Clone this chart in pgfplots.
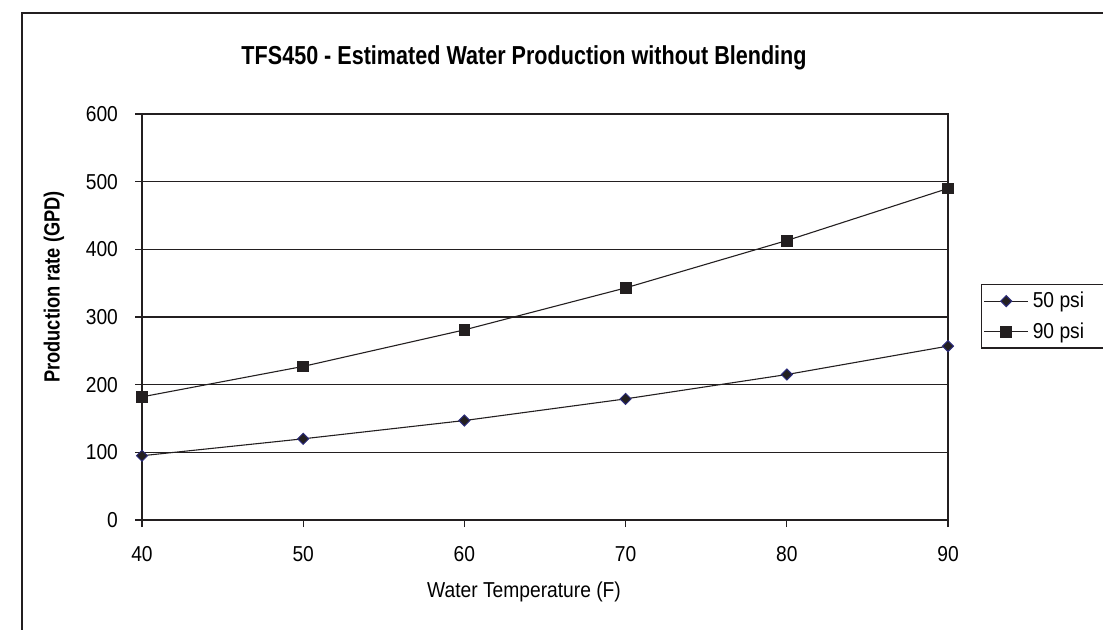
\documentclass[border=0pt]{standalone}
\usepackage{fontspec}
\setmainfont{Liberation Sans}[FakeStretch=0.89]
\newfontfamily\condbold{Liberation Sans Bold}[FakeStretch=0.83]
\usepackage{pgfplots}
\pgfplotsset{compat=1.18}
\definecolor{ink}{HTML}{231F20}
\definecolor{navy}{HTML}{2B2B7A}
\begin{document}
\begin{tikzpicture}[x=0.5pt,y=0.5pt]
\useasboundingbox (0,0) rectangle (1103,629);
\draw[ink,line width=1.25pt] (22,-5) -- (22,616) -- (1110,616);
\begin{axis}[
  at={(71pt,54.5pt)}, anchor=south west,
  width=403pt, height=203pt, scale only axis,
  xmin=40, xmax=90, ymin=0, ymax=600,
  xtick={40,50,...,90}, ytick={0,100,...,600},
  xtick pos=bottom, ytick pos=left,
  ymajorgrids, grid style={ink,line width=0.65pt},
  axis line style={ink,line width=0.65pt},
  tick style={ink,line width=0.65pt},
  tick align=outside, major tick length=3.5pt,
  /pgf/number format/assume math mode=true,
  ticklabel style={font=\fontsize{10.8}{12}\selectfont},
  xticklabel style={anchor=base, yshift=-17.25pt},
  yticklabel style={xshift=-5pt},
  title={\condbold TFS450 - Estimated Water Production without Blending},
  title style={at={(rel axis cs:0.474,1)}, anchor=base, yshift=19pt, font=\fontsize{13}{15}\selectfont},
  xlabel={Water Temperature (F)},
  every axis x label/.style={at={(rel axis cs:0.474,0)}, anchor=base, yshift=-38.5pt, font=\fontsize{10.8}{12}\selectfont},
  ylabel={\condbold Production rate (GPD)},
  every axis y label/.style={at={(rel axis cs:0,0.5)}, xshift=-44pt, yshift=15pt, rotate=90, anchor=center, font=\fontsize{11}{13}\selectfont},
  legend style={at={(1.041,0.581)}, anchor=north west, draw=ink, line width=0.65pt,
    font=\fontsize{10.8}{12}\selectfont, inner xsep=1pt, inner ysep=1.5pt, row sep=2pt,
    nodes={inner sep=2pt}},
  legend cell align=left,
  legend image code/.code={\draw[mark repeat=2,mark phase=2,#1] plot coordinates {(0pt,0pt)(11pt,0pt)(22pt,0pt)};},
]
\addplot[ink, line width=0.55pt, mark=square*, mark size=1.95pt,
  mark options={rotate=45, fill=ink, draw=navy, line width=0.5pt}]
  coordinates {(40,95) (50,120) (60,147) (70,179) (80,215) (90,257)};
\addlegendentry{50 psi\hspace*{14pt}}
\addplot[ink, line width=0.55pt, mark=square*, mark size=2.7pt,
  mark options={fill=ink, draw=ink, line width=0.4pt}]
  coordinates {(40,182) (50,227) (60,281) (70,343) (80,413) (90,490)};
\addlegendentry{90 psi\hspace*{14pt}}
\end{axis}
\end{tikzpicture}
\end{document}
